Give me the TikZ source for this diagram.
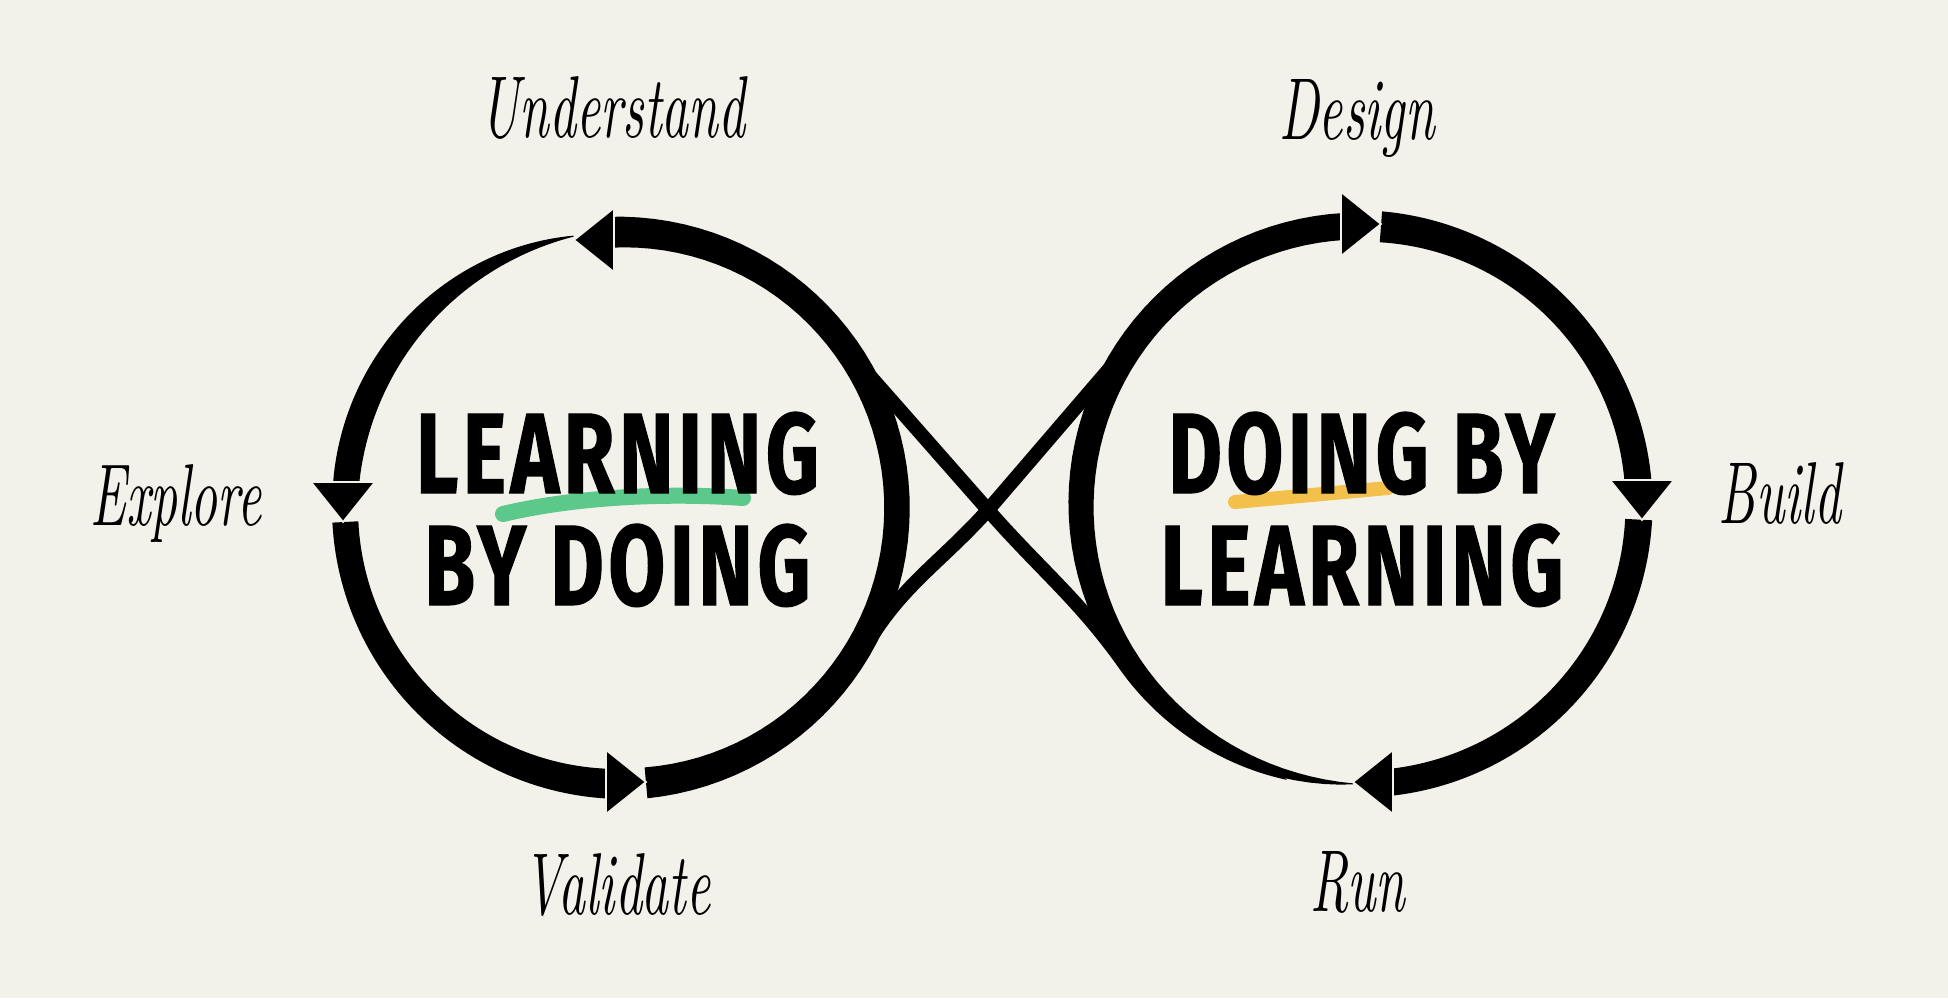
\documentclass[tikz,border=0pt]{standalone}
\usepackage{fontspec}
\usetikzlibrary{calc}
\newfontfamily\bigfont{Fira Sans}[FakeStretch=0.72, LetterSpace=4, FakeBold=1]
\newfontfamily\handfont{lmroman10-italic}[Extension=.otf, FakeStretch=0.6]
\definecolor{paper}{RGB}{242,241,234}
\definecolor{ink}{RGB}{0,0,0}
\definecolor{mint}{RGB}{92,201,139}
\definecolor{mustard}{RGB}{244,192,76}

\tikzset{
  declare function={
    bw(\pos,\wa,\wm,\wz)=\wa*(1-\pos)*(1-\pos)+2*\wm*\pos*(1-\pos)+\wz*\pos*\pos;
    tw(\pos,\wa,\wm,\wz)=bw(1-(1-\pos)*(1-\pos)*(1-\pos),\wa,\wm,\wz);
  },
  diagline/.style={draw=ink, line width=0.14cm},
  bigword/.style={anchor=base, inner sep=0pt, font=\bigfont\bfseries\fontsize{32.5}{36}\selectfont},
  handword/.style={anchor=base, inner sep=0pt, font=\handfont\fontsize{25}{28}\selectfont},
  brushtip/.pic={\filldraw[fill=ink, draw=paper, line width=0.5pt] (0,0) -- (-0.4,0.32) -- (-0.4,-0.32) -- cycle;}
}

% ring piece with a width that changes: centre, radius, from, to, widths, profile
\newcommand{\brushstroke}[8]{%
  \fill[ink, shift={(#1)}]
    plot[samples=60, domain=#3:#4, variable=\t] (\t:{#2+0.5*#8((\t-(#3))/((#4)-(#3)),#5,#6,#7)})
    -- plot[samples=60, domain=#4:#3, variable=\t] (\t:{#2-0.5*#8((\t-(#3))/((#4)-(#3)),#5,#6,#7)})
    -- cycle;}

\begin{document}
\begin{tikzpicture}
		%paper
		\useasboundingbox (0,0) rectangle (19.48,9.98);
		\fill[paper] (0,0) rectangle (19.48,9.98);
		
		%radii and centres of the two loops
		\def\rL{2.76};
		\def\rR{2.79};
		\coordinate (lc) at (6.21,4.90);
		\coordinate (rc) at (13.60,4.93);
		\coordinate (cross) at (9.88,4.88);
		
		%left loop
		\brushstroke{lc}{\rL}{99.9}{176}{0.01}{0.3}{0.26}{bw}
		\brushstroke{lc}{\rL}{182.9}{269}{0.26}{0.25}{0.3}{bw}
		\brushstroke{lc}{\rL}{275.2}{452.5}{0.31}{0.2}{0.31}{bw}
		
		%right loop
		\brushstroke{rc}{\rR}{85.7}{3.5}{0.31}{0.25}{0.27}{bw}
		\brushstroke{rc}{\rR}{-3}{-86}{0.27}{0.26}{0.27}{bw}
		\brushstroke{rc}{\rR}{-91.4}{-267}{0.01}{0.2}{0.27}{tw}
		
		%crossing lines
		\draw[diagline] ($(lc)+(48:\rL)$) -- (cross) to [out=-48.7, in=125] ($(rc)+(-145:2.84)$);
		\brushstroke{rc}{2.84}{-145}{-105}{0.14}{0.1}{0.01}{bw}
		\brushstroke{lc}{2.81}{-68}{-30}{0.01}{0.1}{0.14}{bw}
		\draw[diagline] ($(lc)+(-30:2.81)$) to [out=60, in=-132] (cross) -- ($(rc)+(138:\rR)$);
		
		%arrow heads
		\pic[rotate=180] at (5.74,7.58) {brushtip};
		\pic[rotate=-90] at (3.43,4.76) {brushtip};
		\pic at (6.46,2.16) {brushtip};
		\pic at (13.81,7.74) {brushtip};
		\pic[rotate=-90] at (16.42,4.78) {brushtip};
		\pic[rotate=180] at (13.53,2.16) {brushtip};
		
		%highlights
		\draw[mint, line width=0.16cm, line cap=round] (5.03,4.84) .. controls (5.7,5.0) and (6.6,5.06) .. (7.43,5.0);
		\draw[mustard, line width=0.14cm, line cap=round] (12.35,4.96) -- (13.88,5.10);
		
		%titles
		\node[bigword] (learnA) at (6.175,5.05) {LEARNING};
		\node[bigword] (doingA) at (6.175,3.93) {BY DOING};
		\node[bigword] (doingB) at (13.615,5.05) {DOING BY};
		\node[bigword] (learnB) at (13.62,3.93) {LEARNING};
		
		%steps
		\node[handword] (understand) at (6.13,8.60) {Understand};
		\node[handword] (explore) at (1.76,4.73) {Explore};
		\node[handword] (validate) at (6.17,0.84) {Validate};
		\node[handword] (design) at (13.57,8.58) {Design};
		\node[handword] (build) at (17.80,4.75) {Build};
		\node[handword] (run) at (13.58,0.87) {Run};
		
	\end{tikzpicture}
\end{document}
